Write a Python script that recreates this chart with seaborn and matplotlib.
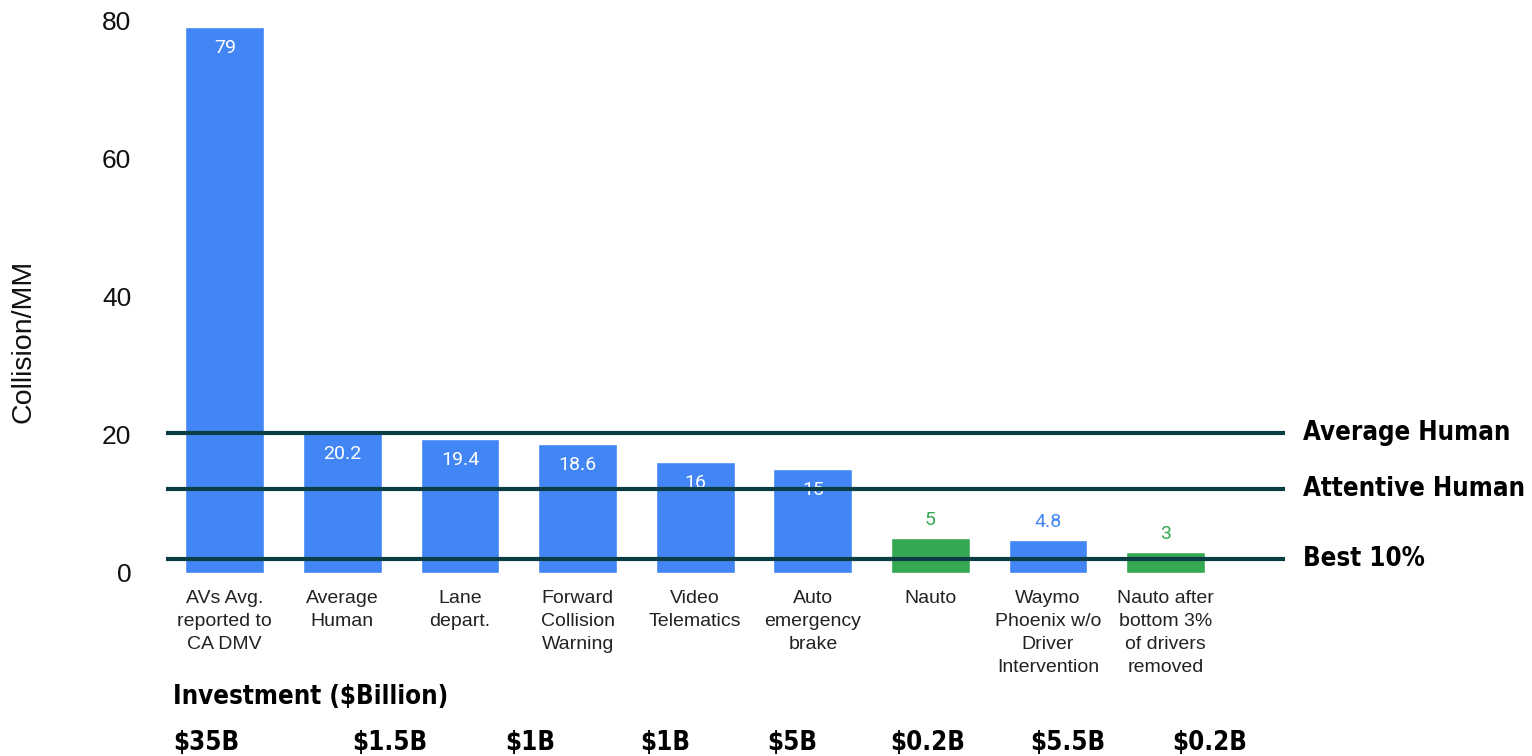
import numpy as np
import pandas as pd
import seaborn as sns
from matplotlib import pyplot as plt

sns.set_style('white')
plt.rcParams['font.family'] = ['Liberation Sans', 'DejaVu Sans']
plt.rcParams['text.color'] = 'black'

categories = ['AVs Avg.\nreported to\nCA DMV', 'Average\nHuman', 'Lane\ndepart.',
              'Forward\nCollision\nWarning', 'Video\nTelematics', 'Auto\nemergency\nbrake',
              'Nauto', 'Waymo\nPhoenix w/o\nDriver\nIntervention',
              'Nauto after\nbottom 3%\nof drivers\nremoved']
collisions = [79, 20.2, 19.4, 18.6, 16, 15, 5, 4.8, 3]
value_labels = ['79', '20.2', '19.4', '18.6', '16', '15', '5', '4.8', '3']
is_nauto = [False, False, False, False, False, False, True, False, True]

ref_names = ['Average Human', 'Attentive Human', 'Best 10%']
ref_values = [20.3, 12.2, 2.0]

investments = ['$35B', '$1.5B', '$1B', '$1B', '$5B', '$0.2B', '$5.5B', '$0.2B']

BLUE = '#4285f4'
GREEN = '#34a853'
LINE = '#0b3d45'

df = pd.DataFrame({'cat': categories, 'val': collisions,
                   'grp': ['nauto' if n else 'other' for n in is_nauto]})

fig = plt.figure(figsize=(15.32, 7.56), dpi=100)
ax = fig.add_axes([166 / 1532, 1 - 573 / 756, (1285 - 166) / 1532, 553 / 756])

sns.barplot(data=df, x='cat', y='val', hue='grp', palette={'other': BLUE, 'nauto': GREEN},
            dodge=False, width=0.67, saturation=1, legend=False, ax=ax, zorder=2)

ax.set_ylim(0, 80)
ax.set_xlim(-0.5, 9.015)
ax.set_yticks([0, 20, 40, 60, 80])
ax.tick_params(axis='y', labelsize=19, colors='#111111', length=0, pad=25)
ax.tick_params(axis='x', labelsize=14, colors='#222222', length=0, pad=12)
for lab in ax.get_xticklabels():
    lab.set_linespacing(1.46)
ax.set_xlabel('')
ax.set_ylabel('Collision/MM', fontsize=20.5, color='#111111')
ax.yaxis.set_label_coords(-0.1153, 0.4186)
sns.despine(ax=ax, left=True, bottom=True)

for i, (v, t) in enumerate(zip(collisions, value_labels)):
    if v > 10:
        ax.annotate(t, (i, v), xytext=(0, -15), textcoords='offset points', ha='center',
                    va='center', color='white', fontsize=14, family='Roboto', zorder=3)
    else:
        col = GREEN if is_nauto[i] else BLUE
        ax.annotate(t, (i, v), xytext=(0, 13), textcoords='offset points', ha='center',
                    va='center', color=col, fontsize=14, family='Roboto', zorder=3)

bold = dict(fontsize=18.5, fontweight='bold', family='DejaVu Sans', fontstretch='condensed',
            color='black')

for name, v in zip(ref_names, ref_values):
    ax.axhline(v, color=LINE, lw=3, zorder=4)
    ax.annotate(name, (1, v), xycoords=('axes fraction', 'data'), xytext=(13, 0),
                textcoords='offset points', ha='left', va='center',
                annotation_clip=False, **bold)

fig.text(173 / 1532, 1 - 697 / 756, 'Investment ($Billion)', va='center', ha='left', **bold)
inv_x = [173, 352, 505, 640, 767, 890, 1030, 1172]
for x, t in zip(inv_x, investments):
    fig.text(x / 1532, 1 - 743 / 756, t, va='center', ha='left', **bold)

fig.savefig('out.png', dpi=100)
